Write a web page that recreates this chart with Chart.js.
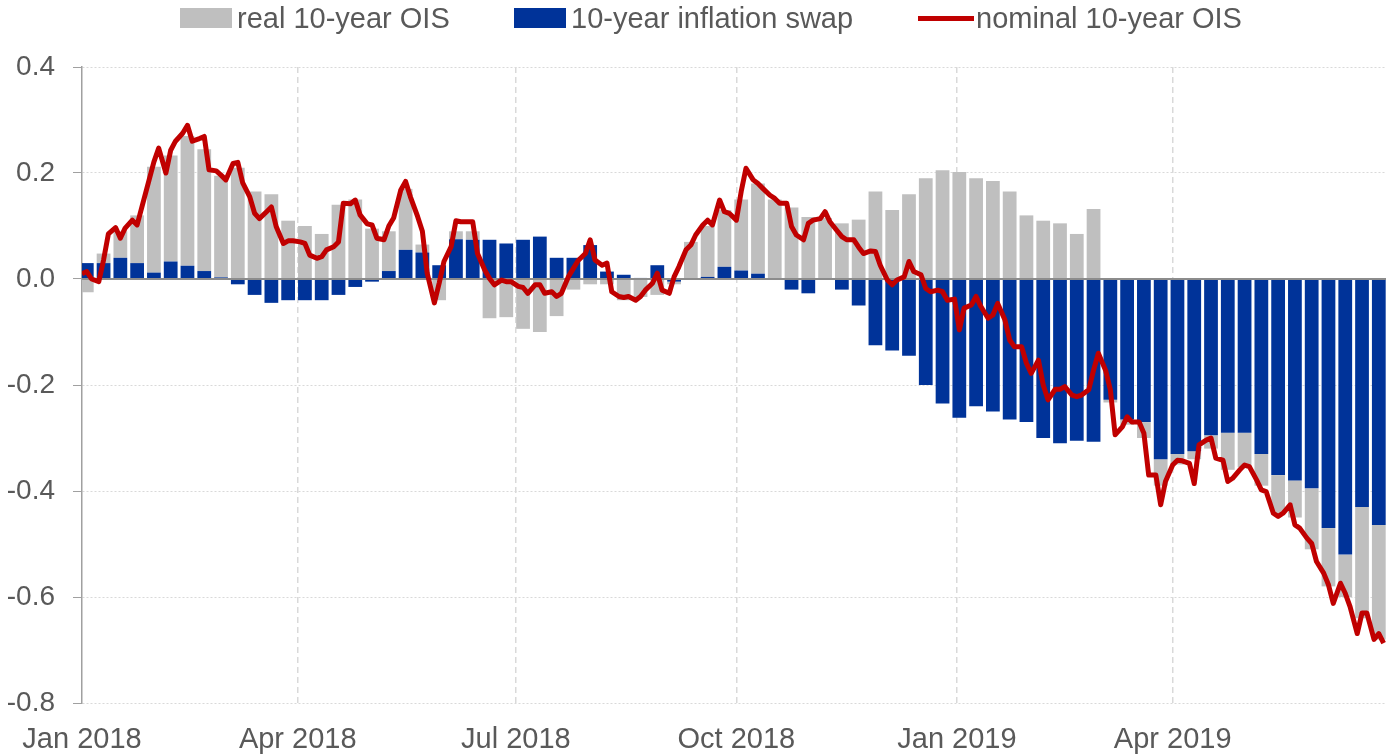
<!DOCTYPE html>
<html>
<head>
<meta charset="utf-8">
<script src="https://cdn.jsdelivr.net/npm/chart.js@4.4.1/dist/chart.umd.min.js"></script>
<style>
  body { margin: 0; background: #fff; }
  #wrap { position: relative; width: 1386px; height: 754px; }
  #legend { position: absolute; top: 0; left: 0; width: 1386px; height: 36px;
    font: 29px "Liberation Sans", Arial, sans-serif; color: #595959; }
  .item { position: absolute; top: 2px; height: 32px; display: flex; align-items: center; white-space: nowrap; }
  .sw { width: 52px; height: 20px; margin-right: 5px; }
  .ln { width: 56px; height: 5px; margin-right: 2px; }
</style>
</head>
<body>
<div id="wrap">
  <canvas id="chart" width="1386" height="754"></canvas>
  <div id="legend">
    <div class="item" style="left:180px"><span class="sw" style="background:#bfbfbf"></span><span>real 10-year OIS</span></div>
    <div class="item" style="left:514px"><span class="sw" style="background:#003399"></span><span>10-year inflation swap</span></div>
    <div class="item" style="left:918px"><span class="ln" style="background:#c00000"></span><span>nominal 10-year OIS</span></div>
  </div>
</div>
<script>
// x axis: quarter ticks
const quarterDates = ['2018-01-01', '2018-04-01', '2018-07-01', '2018-10-01', '2019-01-01', '2019-04-01'];
const quarterLabels = ['Jan 2018', 'Apr 2018', 'Jul 2018', 'Oct 2018', 'Jan 2019', 'Apr 2019'];

// weekly values, one per week starting Mon 1 Jan 2018 (78 weeks)
const inflationSwap = [
  0.03, 0.03, 0.04, 0.03, 0.012, 0.033, 0.025, 0.015, 0.003, -0.01,
  -0.03, -0.045, -0.04, -0.04, -0.04, -0.03, -0.015, -0.005, 0.015, 0.055,
  0.05, 0.026, 0.075, 0.074, 0.074, 0.067, 0.074, 0.08, 0.04, 0.04,
  0.064, 0.014, 0.008, 0.002, 0.026, -0.005, 0.0, 0.004, 0.023, 0.016,
  0.01, 0.0, -0.02, -0.027, 0.0, -0.02, -0.05, -0.125, -0.135, -0.145,
  -0.2, -0.235, -0.262, -0.24, -0.25, -0.265, -0.27, -0.3, -0.31, -0.305,
  -0.307, -0.228, -0.265, -0.27, -0.34, -0.33, -0.325, -0.295, -0.29, -0.29,
  -0.33, -0.37, -0.38, -0.395, -0.47, -0.52, -0.43, -0.464
];
const realOis = [
  -0.025, 0.018, 0.05, 0.09, 0.2, 0.2, 0.245, 0.23, 0.192, 0.21,
  0.165, 0.16, 0.11, 0.1, 0.085, 0.14, 0.15, 0.095, 0.075, 0.115,
  0.015, -0.04, 0.015, 0.016, -0.074, -0.072, -0.094, -0.1, -0.07, -0.02,
  -0.01, -0.01, -0.04, -0.034, -0.03, -0.005, 0.07, 0.096, 0.107, 0.134,
  0.17, 0.15, 0.135, 0.117, 0.115, 0.105, 0.112, 0.165, 0.13, 0.16,
  0.19, 0.205, 0.202, 0.19, 0.185, 0.165, 0.12, 0.11, 0.105, 0.085,
  0.132, -0.005, -0.01, -0.03, -0.05, -0.02, -0.015, -0.025, -0.07, -0.065,
  -0.06, -0.075, -0.07, -0.115, -0.11, -0.08, -0.21, -0.216
];
// nominal OIS, three readings per week (Mon, Wed, Fri)
const nominalOis = [
  0.01, 0.014, 0.0,   -0.005, 0.036, 0.085,   0.097, 0.077, 0.096,   0.111, 0.102, 0.136,
  0.187, 0.221, 0.247,   0.2, 0.243, 0.26,   0.275, 0.29, 0.26,   0.265, 0.269, 0.206,
  0.204, 0.196, 0.187,   0.218, 0.22, 0.182,   0.155, 0.124, 0.114,   0.127, 0.136, 0.099,
  0.067, 0.072, 0.072,   0.07, 0.067, 0.045,   0.039, 0.042, 0.055,   0.061, 0.07, 0.143,
  0.142, 0.149, 0.121,   0.104, 0.102, 0.077,   0.074, 0.1, 0.115,   0.168, 0.184, 0.155,
  0.118, 0.09, 0.011,   -0.045, -0.008, 0.033,   0.061, 0.11, 0.108,   0.108, 0.108, 0.048,
  0.017, 0.001, -0.011,   -0.002, -0.005, -0.005,   -0.014, -0.016, -0.027,   -0.011, -0.011, -0.027,
  -0.024, -0.033, -0.027,   0.005, 0.02, 0.035,   0.048, 0.074, 0.036,   0.026, 0.03, -0.024,
  -0.033, -0.035, -0.033,   -0.04, -0.033, -0.021,   -0.008, 0.011, -0.021,   -0.027, 0.004, 0.023,
  0.055, 0.064, 0.083,   0.102, 0.111, 0.102,   0.149, 0.127, 0.124,   0.111, 0.165, 0.209,
  0.187, 0.18, 0.171,   0.158, 0.152, 0.143,   0.143, 0.099, 0.083,   0.074, 0.105, 0.111,
  0.114, 0.127, 0.108,   0.091, 0.08, 0.074,   0.074, 0.06, 0.048,   0.053, 0.052, 0.026,
  -0.002, -0.011, -0.002,   0.004, 0.033, 0.014,   0.008, -0.018, -0.024,   -0.021, -0.024, -0.04,
  -0.038, -0.096, -0.055,   -0.049, -0.033, -0.052,   -0.074, -0.068, -0.046,   -0.077, -0.115, -0.128,
  -0.128, -0.159, -0.178,   -0.153, -0.2, -0.228,   -0.208, -0.208, -0.203,   -0.219, -0.222, -0.219,
  -0.209, -0.172, -0.14,   -0.172, -0.209, -0.294,   -0.279, -0.26, -0.27,   -0.27, -0.291, -0.37,
  -0.37, -0.426, -0.382,   -0.351, -0.342, -0.343,   -0.348, -0.386, -0.313,   -0.304, -0.3, -0.338,
  -0.342, -0.382, -0.376,   -0.36, -0.351, -0.354,   -0.379, -0.398, -0.401,   -0.442, -0.448, -0.442,
  -0.426, -0.464, -0.47,   -0.489, -0.499, -0.533,   -0.555, -0.577, -0.612,   -0.574, -0.593, -0.618,
  -0.669, -0.63, -0.63,   -0.68, -0.669, -0.687
];

const FONT = '"Liberation Sans", Arial, sans-serif';
const TEXT = '#595959';

// day offsets from 1 Jan 2018
const t0 = Date.parse('2018-01-01');
const dayOf = (s) => (Date.parse(s) - t0) / 864e5;
const quarterDays = quarterDates.map(dayOf);
const weekMid = inflationSwap.map((_, k) => k * 7 + 2);
const nomDays = nominalOis.map((_, i) => Math.floor(i / 3) * 7 + [0, 2, 4][i % 3]);

// zero line sits on top of the bars but under the red line
const zeroLine = {
  id: 'zeroLine',
  beforeDatasetDraw(chart, args) {
    if (args.meta.type !== 'line') return;
    const { ctx, chartArea, scales } = chart;
    const y = scales.y.getPixelForValue(0);
    ctx.save();
    ctx.strokeStyle = '#8c8c8c';
    ctx.lineWidth = 2;
    ctx.beginPath();
    ctx.moveTo(chartArea.left, y);
    ctx.lineTo(chartArea.right, y);
    ctx.stroke();
    ctx.restore();
  }
};

new Chart(document.getElementById('chart'), {
  type: 'bar',
  data: {
    datasets: [
      {
        label: '10-year inflation swap',
        data: inflationSwap.map((v, k) => ({ x: weekMid[k], y: v })),
        backgroundColor: '#003399',
        stack: 'bars',
        order: 1,
        categoryPercentage: 0.82,
        barPercentage: 1,
      },
      {
        label: 'real 10-year OIS',
        data: realOis.map((v, k) => ({ x: weekMid[k], y: v })),
        backgroundColor: '#bfbfbf',
        stack: 'bars',
        order: 1,
        categoryPercentage: 0.82,
        barPercentage: 1,
      },
      {
        type: 'line',
        label: 'nominal 10-year OIS',
        data: nominalOis.map((v, i) => ({ x: nomDays[i], y: v })),
        borderColor: '#c00000',
        borderWidth: 5,
        borderJoinStyle: 'round',
        pointRadius: 0,
        tension: 0,
        stack: 'nominal',
        order: 0,
      }
    ]
  },
  options: {
    responsive: false,
    animation: false,
    devicePixelRatio: 1,
    layout: { padding: { top: 67, left: 0, right: 0, bottom: 0 } },
    plugins: {
      legend: { display: false },
      tooltip: { enabled: false },
    },
    scales: {
      x: {
        type: 'linear',
        offset: false,
        min: 0,
        max: 544,
        afterBuildTicks: (scale) => { scale.ticks = quarterDays.map((d) => ({ value: d })); },
        afterFit: (scale) => { scale.height = 51; },
        ticks: {
          autoSkip: false,
          maxRotation: 0,
          padding: 20,
          color: TEXT,
          font: { family: FONT, size: 29 },
          callback: (v) => quarterLabels[quarterDays.indexOf(v)],
        },
        grid: {
          offset: false,
          drawTicks: false,
          lineWidth: 1.5,
          color: (ctx) => (ctx.index === 0 ? 'rgba(0,0,0,0)' : '#d9d9d9'),
        },
        border: { display: false, dash: [6, 4] },
      },
      y: {
        stacked: true,
        min: -0.8,
        max: 0.4,
        afterFit: (scale) => { scale.width = 82; },
        ticks: {
          stepSize: 0.2,
          padding: 18,
          color: TEXT,
          font: { family: FONT, size: 28 },
          callback: (v) => (Math.abs(v) < 1e-9 ? '0.0' : v.toFixed(1)),
        },
        grid: {
          color: (ctx) => (Math.abs(ctx.tick.value) < 1e-9 ? 'rgba(0,0,0,0)' : '#d9d9d9'),
          tickColor: '#a0a0a0',
          tickLength: 9,
          tickBorderDash: [],
        },
        border: { color: '#a0a0a0', width: 1.5, dash: [2, 2] },
      }
    }
  },
  plugins: [zeroLine]
});
</script>
</body>
</html>
